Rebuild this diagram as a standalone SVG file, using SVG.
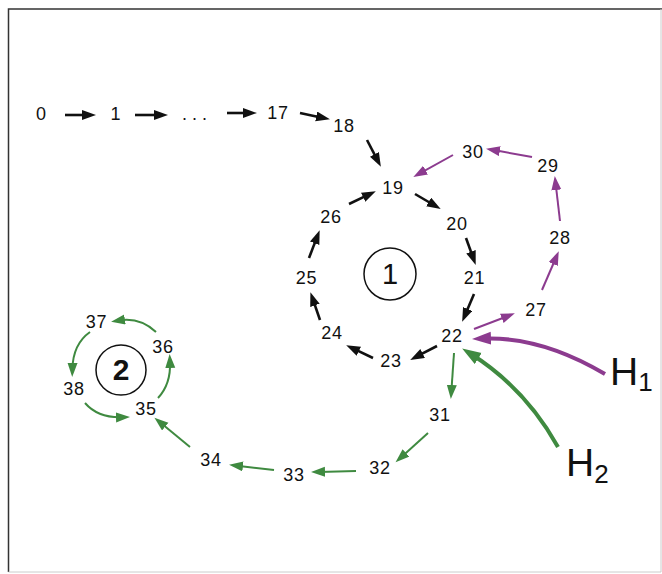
<svg xmlns="http://www.w3.org/2000/svg" width="662" height="574" viewBox="0 0 662 574">
  <style>
    .lbl { font-family: "Liberation Sans", Arial, sans-serif; font-size: 18px; fill: #111; text-anchor: middle; letter-spacing: 0.8px; }
    .big { font-family: "Liberation Sans", Arial, sans-serif; font-size: 39px; fill: #111; }
    .sub { font-family: "Liberation Sans", Arial, sans-serif; font-size: 26px; fill: #111; }
    .blk { fill: none; stroke: #111; stroke-width: 2.6; marker-end: url(#ahBlk); }
    .pur { fill: none; stroke: #8c3b8f; stroke-width: 2; marker-end: url(#ahPur); }
    .grn { fill: none; stroke: #3f8a40; stroke-width: 2; marker-end: url(#ahGrn); }
    .purT { fill: none; stroke: #8c3b8f; stroke-width: 4; marker-end: url(#ahPurT); }
    .grnT { fill: none; stroke: #3f8a40; stroke-width: 4; marker-end: url(#ahGrnT); }
    .ring { fill: none; stroke: #111; stroke-width: 1.5; }
  </style>
  <defs>
    <marker id="ahBlk" markerUnits="userSpaceOnUse" markerWidth="16" markerHeight="12" refX="6" refY="5" orient="auto">
      <path d="M0,0 L14,5 L0,10 z" fill="#111"/>
    </marker>
    <marker id="ahPur" markerUnits="userSpaceOnUse" markerWidth="16" markerHeight="12" refX="6" refY="5" orient="auto">
      <path d="M0,0 L14,5 L0,10 z" fill="#8c3b8f"/>
    </marker>
    <marker id="ahGrn" markerUnits="userSpaceOnUse" markerWidth="16" markerHeight="12" refX="6" refY="5" orient="auto">
      <path d="M0,0 L14,5 L0,10 z" fill="#3f8a40"/>
    </marker>
    <marker id="ahPurT" markerUnits="userSpaceOnUse" markerWidth="20" markerHeight="14" refX="9" refY="6.5" orient="auto">
      <path d="M0,0 L19,6.5 L0,13 z" fill="#8c3b8f"/>
    </marker>
    <marker id="ahGrnT" markerUnits="userSpaceOnUse" markerWidth="20" markerHeight="14" refX="9" refY="6.5" orient="auto">
      <path d="M0,0 L19,6.5 L0,13 z" fill="#3f8a40"/>
    </marker>
  </defs>

  <rect x="0" y="0" width="662" height="574" fill="#fff"/>
  <!-- frame -->
  <path d="M8.5,572 L8.5,9 L662,9" fill="none" stroke="#333" stroke-width="1.5"/>
  <path d="M661,9 L661,572 L8.5,572" fill="none" stroke="#ccc" stroke-width="1"/>

  <g id="connectors">
    <!-- entry chain -->
    <path class="blk" d="M65,115 L88,115"/>
    <path class="blk" d="M135,115 L160,115"/>
    <path class="blk" d="M227,113 L249,113"/>
    <path class="blk" d="M300,113 L322.1,117.7"/>
    <path class="blk" d="M367,140 L377.2,159.7"/>
    <!-- cycle 1 -->
    <path class="blk" d="M415,194 L433.8,205"/>
    <path class="blk" d="M466,238 L473,257.4"/>
    <path class="blk" d="M474,294 L465.3,314.5"/>
    <path class="blk" d="M437,346 L417.3,356.2"/>
    <path class="blk" d="M373,358 L353.4,348.6"/>
    <path class="blk" d="M320,320 L313,299.7"/>
    <path class="blk" d="M309,258 L316.8,237.6"/>
    <path class="blk" d="M349,204 L368.6,194.6"/>
    <!-- purple loop -->
    <path class="pur" d="M474,329 L507.4,316.2"/>
    <path class="pur" d="M542,290 L555.6,258.5"/>
    <path class="pur" d="M560,221 L555.7,184"/>
    <path class="pur" d="M532,157 L493.9,150.1"/>
    <path class="pur" d="M453,155 L420.3,173.1"/>
    <!-- green path -->
    <path class="grn" d="M454,353 L451.4,391"/>
    <path class="grn" d="M428,433 L401.5,457"/>
    <path class="grn" d="M356,471 L319,471.9"/>
    <path class="grn" d="M274,470 L237,465.7"/>
    <path class="grn" d="M190,447 L160.6,422.8"/>
    <!-- cycle 2 -->
    <path class="grn" d="M158,398 Q171,384 170,362"/>
    <path class="grn" d="M156,332 Q140,317 119,320.4"/>
    <path class="grn" d="M90,332 Q73,344 72.4,369"/>
    <path class="grn" d="M85,403 Q98,418 122,417.2"/>
    <!-- entry edges H1, H2 -->
    <path class="purT" d="M605,374 Q541,336 482,338.6"/>
    <path class="grnT" d="M558,447 Q525,388 470.6,353.8"/>
  </g>

  <g id="n0"><text class="lbl" x="41.5" y="120">0</text></g>
  <g id="n1"><text class="lbl" x="116" y="120">1</text></g>
  <g id="ndots"><text class="lbl" x="197" y="120" style="letter-spacing:5px">...</text></g>
  <g id="n17"><text class="lbl" x="278" y="119">17</text></g>
  <g id="n18"><text class="lbl" x="344" y="132">18</text></g>
  <g id="n19"><text class="lbl" x="393" y="194">19</text></g>
  <g id="n20"><text class="lbl" x="457" y="230">20</text></g>
  <g id="n21"><text class="lbl" x="474.5" y="284">21</text></g>
  <g id="n22"><text class="lbl" x="452" y="342">22</text></g>
  <g id="n23"><text class="lbl" x="391" y="367">23</text></g>
  <g id="n24"><text class="lbl" x="332" y="339">24</text></g>
  <g id="n25"><text class="lbl" x="306.5" y="284">25</text></g>
  <g id="n26"><text class="lbl" x="331" y="223">26</text></g>
  <g id="n27"><text class="lbl" x="536" y="316">27</text></g>
  <g id="n28"><text class="lbl" x="560" y="244">28</text></g>
  <g id="n29"><text class="lbl" x="548" y="172">29</text></g>
  <g id="n30"><text class="lbl" x="473" y="158">30</text></g>
  <g id="n31"><text class="lbl" x="440" y="421">31</text></g>
  <g id="n32"><text class="lbl" x="380" y="474">32</text></g>
  <g id="n33"><text class="lbl" x="294" y="481">33</text></g>
  <g id="n34"><text class="lbl" x="211" y="466">34</text></g>
  <g id="n35"><text class="lbl" x="146" y="415">35</text></g>
  <g id="n36"><text class="lbl" x="163" y="353">36</text></g>
  <g id="n37"><text class="lbl" x="96.5" y="328">37</text></g>
  <g id="n38"><text class="lbl" x="74" y="395">38</text></g>

  <g id="cycle1">
    <circle class="ring" cx="390" cy="274" r="26"/>
    <text class="lbl" x="390" y="284" style="font-size:29px;letter-spacing:0">1</text>
  </g>
  <g id="cycle2">
    <circle class="ring" cx="121" cy="370" r="25"/>
    <text class="lbl" x="121" y="380" style="font-size:30px;font-weight:bold;letter-spacing:0">2</text>
  </g>

  <g id="H1"><text class="big" x="610" y="385">H<tspan class="sub" dy="6">1</tspan></text></g>
  <g id="H2"><text class="big" x="566" y="476">H<tspan class="sub" dy="7">2</tspan></text></g>
</svg>
